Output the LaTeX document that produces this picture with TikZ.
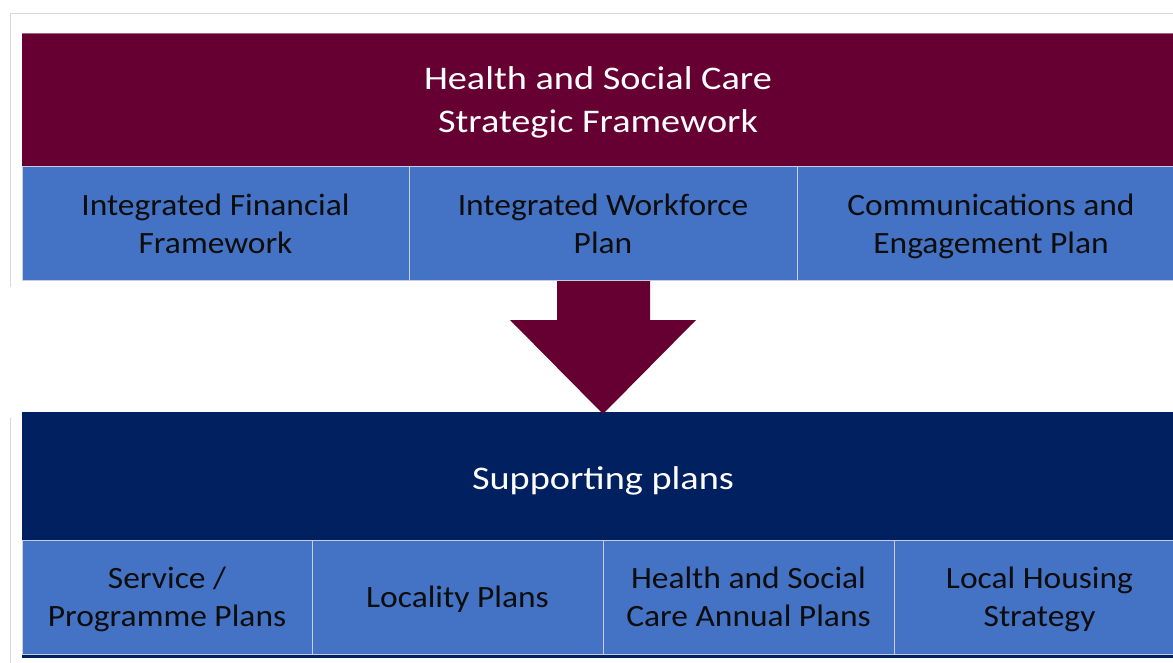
\documentclass[tikz,border=0pt]{standalone}
\usepackage{fontspec}
\setmainfont{Carlito}
\newfontfamily\bandfont[FakeStretch=1.16]{Carlito}
\newfontfamily\cellfont[FakeStretch=1.08]{Carlito}
\newcommand\lnstrut{\vphantom{Hgkly}}
\newcommand\tallstrut[1]{\raisebox{0pt}[\dimexpr\height+#1\relax][\depth]{\vphantom{Hgkly}}}
\definecolor{maroon}{HTML}{660033}
\definecolor{cellblue}{HTML}{4472C4}
\definecolor{navy}{HTML}{002060}
\definecolor{framegray}{HTML}{D9D9D9}
\definecolor{cellline}{HTML}{C9CCE0}
\definecolor{darktext}{HTML}{0D0D0D}
\begin{document}
\begin{tikzpicture}[x=1pt,y=-1pt,
  band/.style={rectangle,inner sep=0pt,anchor=center,text=white,align=center,
    font=\bandfont\fontsize{33}{43}\selectfont},
  cell/.style={rectangle,inner sep=0pt,anchor=center,fill=cellblue,draw=cellline,line width=1pt,
    text=darktext,align=center,font=\cellfont\fontsize{31}{38}\selectfont},
  frameline/.style={draw=framegray,line width=1pt}
]
\useasboundingbox (0,0) rectangle (1173,663);
\fill[white] (0,0) rectangle (1173,663);
% frame lines
\coordinate (ftl) at (10,14);
\coordinate (ftr) at (1173,14);
\coordinate (flb1) at (10,287);
\coordinate (flt2) at (10,418);
\coordinate (flb2) at (10,663);
\draw[frameline] (ftr) -- (ftl) -- (flb1);
\draw[frameline] (flt2) -- (flb2);
% top band
\fill[maroon] (22,33) rectangle (1180,167);
\draw[maroon!60!white,line width=0.8pt] (22,33) -- (1180,33);
\node[band] (title) at (598,101) {\tallstrut{2pt}Health and Social Care\\Strategic Framework\lnstrut};
% top cells
\node[cell,minimum width=387pt,minimum height=113pt] (c1) at (215.5,223.5) {\tallstrut{6pt}Integrated Financial\\Framework\lnstrut};
\node[cell,minimum width=388pt,minimum height=113pt] (c2) at (603,223.5) {\tallstrut{6pt}Integrated Workforce\\Plan\lnstrut};
\node[cell,minimum width=388pt,minimum height=113pt] (c3) at (991,223.5) {\tallstrut{6pt}Communications and\\Engagement Plan\lnstrut};
% navy band
\fill[navy] (22,412) rectangle (1180,540);
\node[band] (supp) at (603,479) {\tallstrut{4pt}Supporting plans\lnstrut};
% bottom strip
\fill[navy] (22,650) rectangle (1180,658);
% bottom cells
\node[cell,minimum width=290pt,minimum height=114pt] (d1) at (167,597) {\tallstrut{4pt}Service /\\Programme Plans\lnstrut};
\node[cell,minimum width=291pt,minimum height=114pt] (d2) at (457.5,597) {\tallstrut{4pt}Locality Plans\lnstrut};
\node[cell,minimum width=291pt,minimum height=114pt] (d3) at (748.5,597) {\tallstrut{4pt}Health and Social\\Care Annual Plans\lnstrut};
\node[cell,minimum width=291pt,minimum height=114pt] (d4) at (1039.5,597) {\tallstrut{4pt}Local Housing\\Strategy\lnstrut};
% arrow
\fill[maroon] (557,281) -- (650,281) -- (650,320) -- (696,320) -- (603,414) -- (510,320) -- (557,320) -- cycle;
\end{tikzpicture}
\end{document}
